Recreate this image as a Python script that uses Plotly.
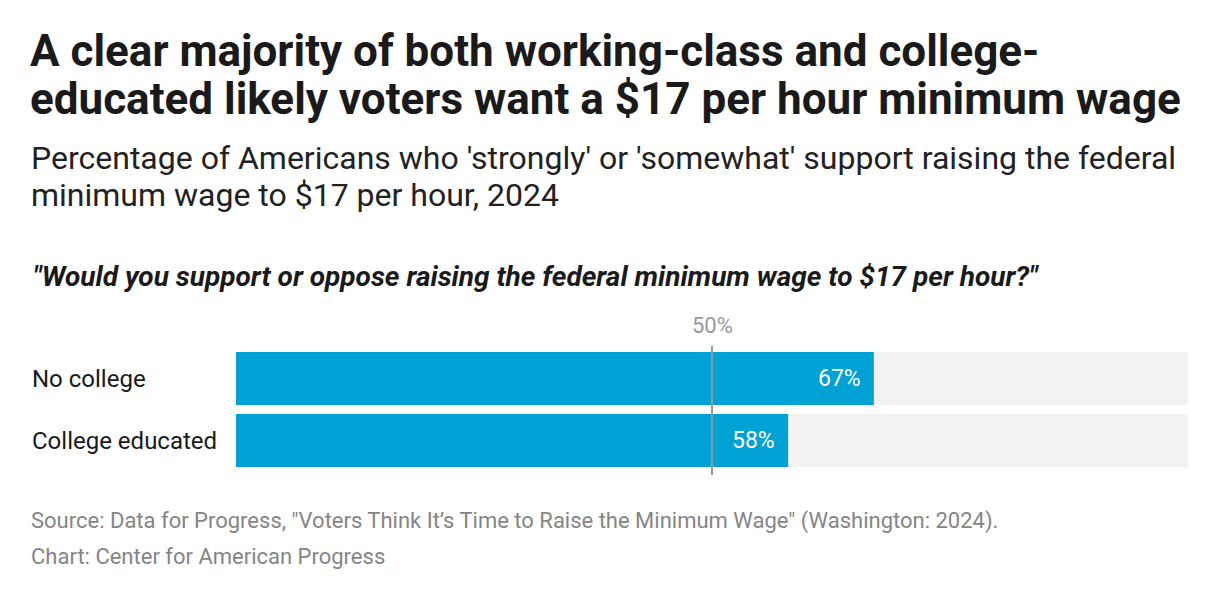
import plotly.graph_objects as go

categories = ["No college", "College educated"]
support = [67, 58]
full = [100, 100]
value_labels = ["67%", "58%"]
reference_value = 50
reference_label = "50%"

W, H = 1220, 600
OFF = 8  # page body margin
def px(x):
    return (x - OFF) / W
def py(y):
    return 1 - (y - OFF) / H

BLUE = "#00a1d5"
GREY_BG = "#f2f2f2"
FONT = "Roboto"

fig = go.Figure()
fig.add_trace(go.Bar(y=categories, x=full, orientation="h", marker=dict(color=GREY_BG, line=dict(width=0)),
                     hoverinfo="skip", showlegend=False))
fig.add_trace(go.Bar(y=categories, x=support, orientation="h", marker=dict(color=BLUE, line=dict(width=0)),
                     showlegend=False))

# value labels inside bars
for c, v, t in zip(categories, support, value_labels):
    fig.add_annotation(x=v, y=c, xref="x", yref="y", text=t, showarrow=False, xanchor="right", xshift=-11,
                       font=dict(family=FONT, size=23, color="white"))

# reference line
fig.add_shape(type="line", xref="x", yref="paper", x0=reference_value, x1=reference_value,
              y0=py(475), y1=py(346), line=dict(color="#999999", width=2), layer="above")
fig.add_annotation(x=reference_value, xref="x", y=py(325), yref="paper", text=reference_label, showarrow=False,
                   yanchor="middle", font=dict(family=FONT, size=22, color="#999999"))

# category labels
for c in categories:
    fig.add_annotation(x=px(30), xref="paper", y=c, yref="y", text=c, showarrow=False, xanchor="left",
                       font=dict(family=FONT, size=24, color="#1a1a1a"))

def txt(text, x, y, size, color, bold=False, italic=False):
    if bold:
        text = "<b>" + text + "</b>"
    if italic:
        text = "<i>" + text + "</i>"
    fig.add_annotation(x=px(x), y=py(y), xref="paper", yref="paper", text=text, showarrow=False,
                       xanchor="left", yanchor="middle", font=dict(family=FONT, size=size, color=color))

txt("A clear majority of both working-class and college-", 28, 51, 44, "#1a1a1a", bold=True)
txt("educated likely voters want a $17 per hour minimum wage", 28, 99, 44, "#1a1a1a", bold=True)
txt("Percentage of Americans who 'strongly' or 'somewhat' support raising the federal", 29, 158, 32, "#222222")
txt("minimum wage to $17 per hour, 2024", 29, 195, 32, "#222222")
txt("\"Would you support or oppose raising the federal minimum wage to $17 per hour?\"", 31, 277, 28, "#1a1a1a", bold=True, italic=True)
txt("Source: Data for Progress, \"Voters Think It’s Time to Raise the Minimum Wage\" (Washington: 2024).", 29, 521, 22, "#858585")
txt("Chart: Center for American Progress", 29, 556, 22, "#858585")

fig.update_layout(
    width=W, height=H,
    margin=dict(l=0, r=0, t=0, b=0),
    paper_bgcolor="white", plot_bgcolor="white",
    barmode="overlay", bargap=9/62,
    xaxis=dict(domain=[px(236), px(1188)], range=[0, 100], visible=False, fixedrange=True),
    yaxis=dict(domain=[py(471.5), py(347.5)], range=[1.5, -0.5], visible=False, fixedrange=True,
               categoryorder="array", categoryarray=categories),
    font=dict(family=FONT),
)

fig.write_html("out.html")
